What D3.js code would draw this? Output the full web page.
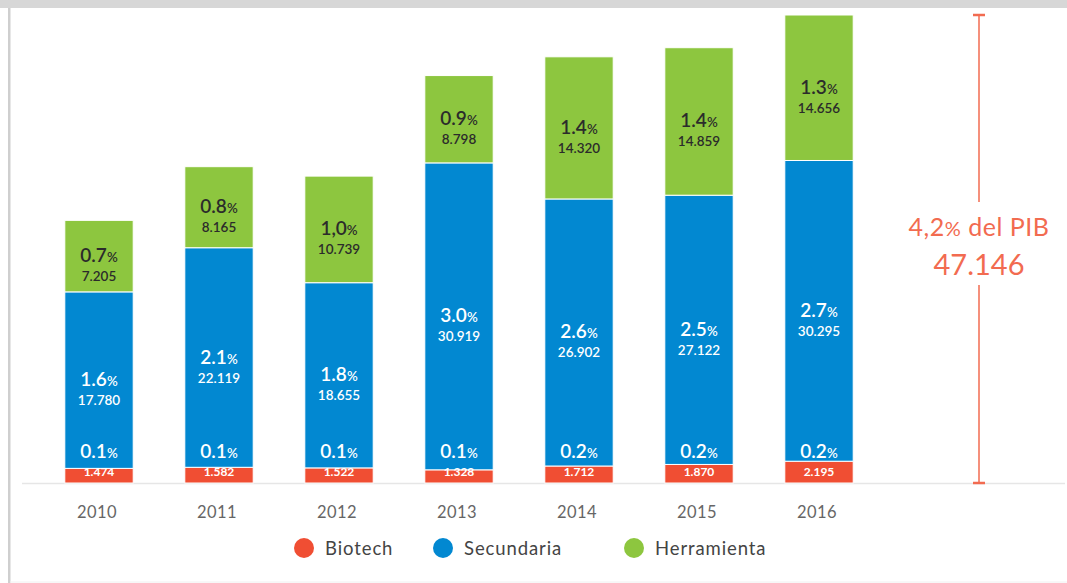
<!DOCTYPE html>
<html>
<head>
<meta charset="utf-8">
<script src="https://cdn.jsdelivr.net/npm/d3@7"></script>
<style>
  html, body { margin: 0; padding: 0; background: #fff; }
  svg { display: block; font-family: Lato, "Open Sans", sans-serif; }
</style>
</head>
<body>
<svg id="chart" width="1067" height="583"></svg>
<script>
// Data
const years = ['2010', '2011', '2012', '2013', '2014', '2015', '2016'];
const biotech = [1474, 1582, 1522, 1328, 1712, 1870, 2195];
const secundaria = [17780, 22119, 18655, 30919, 26902, 27122, 30295];
const herramienta = [7205, 8165, 10739, 8798, 14320, 14859, 14656];
const biotechPct = ['0.1', '0.1', '0.1', '0.1', '0.2', '0.2', '0.2'];
const secundariaPct = ['1.6', '2.1', '1.8', '3.0', '2.6', '2.5', '2.7'];
const herramientaPct = ['0.7', '0.8', '1,0', '0.9', '1.4', '1.4', '1.3'];
const seriesNames = ['Biotech', 'Secundaria', 'Herramienta'];

const COLORS = { Biotech: '#f04e33', Secundaria: '#0288d1', Herramienta: '#8dc63f' };
const ANNOT = '#f26b50';

const svg = d3.select('#chart');
const W = 1067, H = 583;
const baseY = 483, topY = 15;

// frame
svg.append('rect').attr('x', 0).attr('y', 0).attr('width', W).attr('height', 8).attr('fill', '#d7d7d7');
svg.append('rect').attr('x', 8).attr('y', 8).attr('width', 2.5).attr('height', H - 8).attr('fill', '#cfcfcf');
svg.append('line').attr('x1', 10).attr('x2', W).attr('y1', H - 1).attr('y2', H - 1)
  .attr('stroke', '#f0f0f0');

const rows = years.map((y, i) => ({
  year: y,
  Biotech: biotech[i], Secundaria: secundaria[i], Herramienta: herramienta[i],
  pct: { Biotech: biotechPct[i], Secundaria: secundariaPct[i], Herramienta: herramientaPct[i] },
}));

const x = d3.scaleBand().domain(years).range([39, 879]).paddingInner(0.43).paddingOuter(0.215);
const total = d3.max(rows, d => d.Biotech + d.Secundaria + d.Herramienta);
const y = d3.scaleLinear().domain([0, total]).range([baseY, topY]);

const locale = d3.formatLocale({ decimal: ',', thousands: '.', grouping: [3], currency: ['', ''] });
const fmt = locale.format(',d');

// baseline
svg.append('line').attr('x1', 22).attr('x2', 1065).attr('y1', baseY + 0.5).attr('y2', baseY + 0.5)
  .attr('stroke', '#e6e6e6').attr('stroke-width', 1.5);

const stack = d3.stack().keys(seriesNames)(rows);

const layers = svg.append('g').selectAll('g')
  .data(stack)
  .join('g')
  .attr('fill', d => COLORS[d.key]);

layers.selectAll('rect')
  .data(d => d)
  .join('rect')
  .attr('x', d => x(d.data.year))
  .attr('width', x.bandwidth())
  .attr('y', d => y(d[1]))
  .attr('height', d => y(d[0]) - y(d[1]))
  .attr('stroke', '#fff')
  .attr('stroke-width', 1);

function pctText(sel, pct, size) {
  sel.append('tspan').text(pct);
  sel.append('tspan').attr('font-size', size * 0.7).text('%');
}

// labels for secundaria and herramienta, centred in segment
stack.forEach(layer => {
  if (layer.key === 'Biotech') return;
  const color = layer.key === 'Herramienta' ? '#2b2b2b' : '#fff';
  layer.forEach(d => {
    const cx = x(d.data.year) + x.bandwidth() / 2;
    const mid = (y(d[0]) + y(d[1])) / 2;
    const t = svg.append('text')
      .attr('x', cx).attr('y', mid + 6)
      .attr('text-anchor', 'middle')
      .attr('fill', color)
      .attr('font-size', 19).attr('font-weight', 600);
    pctText(t, d.data.pct[layer.key], 19);
    svg.append('text')
      .attr('x', cx).attr('y', mid + 25)
      .attr('text-anchor', 'middle')
      .attr('fill', color)
      .attr('font-size', 13.5).attr('font-weight', 600)
      .text(fmt(d.data[layer.key]));
  });
});

// biotech labels, sitting just above the baseline
stack[0].forEach(d => {
  const cx = x(d.data.year) + x.bandwidth() / 2;
  const t = svg.append('text')
    .attr('x', cx).attr('y', baseY - 25)
    .attr('text-anchor', 'middle')
    .attr('fill', '#fff')
    .attr('font-size', 19).attr('font-weight', 600);
  pctText(t, d.data.pct.Biotech, 19);
  svg.append('text')
    .attr('x', cx).attr('y', baseY - 7)
    .attr('text-anchor', 'middle')
    .attr('fill', '#fff')
    .attr('font-size', 12).attr('font-weight', 700)
    .text(fmt(d.data.Biotech));
});

// x axis labels
svg.append('g').selectAll('text')
  .data(years)
  .join('text')
  .attr('x', d => x(d) + x.bandwidth() / 2 - 2)
  .attr('y', 518)
  .attr('text-anchor', 'middle')
  .attr('fill', '#666')
  .attr('font-size', 16.5)
  .attr('letter-spacing', 0.4)
  .text(d => d);

// total annotation
const ax = 979;
const ann = svg.append('g').attr('stroke', ANNOT).attr('stroke-width', 1.5);
ann.append('line').attr('x1', ax).attr('x2', ax).attr('y1', y(total)).attr('y2', 202);
ann.append('line').attr('x1', ax).attr('x2', ax).attr('y1', 285).attr('y2', y(0));
ann.append('line').attr('x1', ax - 6).attr('x2', ax + 6).attr('y1', y(total)).attr('y2', y(total)).attr('stroke-width', 2.5);
ann.append('line').attr('x1', ax - 6).attr('x2', ax + 6).attr('y1', y(0)).attr('y2', y(0)).attr('stroke-width', 2.5);

const a1 = svg.append('text').attr('x', ax).attr('y', 236)
  .attr('text-anchor', 'middle').attr('fill', ANNOT).attr('font-size', 25)
  .attr('letter-spacing', 0.5);
a1.append('tspan').text('4,2');
a1.append('tspan').attr('font-size', 20).text('%');
a1.append('tspan').text(' del PIB');
svg.append('text').attr('x', ax).attr('y', 275)
  .attr('text-anchor', 'middle').attr('fill', ANNOT).attr('font-size', 29)
  .text(fmt(total));

// legend
const legendX = [304, 443, 634];
const legend = svg.append('g').selectAll('g')
  .data(seriesNames)
  .join('g')
  .attr('transform', (d, i) => `translate(${legendX[i]}, 548)`);
legend.append('circle').attr('r', 10).attr('fill', d => COLORS[d]);
legend.append('text').attr('x', 21).attr('y', 6.5)
  .attr('fill', '#444').attr('font-size', 18.5)
  .attr('letter-spacing', 0.9)
  .text(d => d);
</script>
</body>
</html>
